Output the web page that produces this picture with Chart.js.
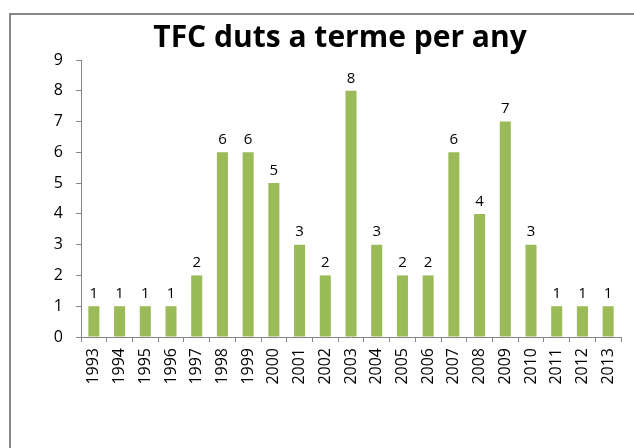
<!DOCTYPE html>
<html lang="ca">
<head>
  <meta charset="UTF-8">
  <title>TFC duts a terme per any</title>
  <script src="https://cdn.jsdelivr.net/npm/chart.js"></script>
  <style>
    html, body { margin: 0; padding: 0; background: #fff; }
    body { width: 634px; height: 448px; position: relative; overflow: hidden; }
    .marc {
      position: absolute; left: 9px; top: 13px;
      width: 660px; height: 480px;
      border: 2px solid #868686;
    }
    canvas { position: absolute; left: 0; top: 0; }
  </style>
</head>
<body>
  <div class="marc"></div>
  <canvas id="grafic" width="634" height="448"></canvas>
  <script>
    // dades
    const anys = ['1993', '1994', '1995', '1996', '1997', '1998', '1999', '2000', '2001', '2002', '2003',
                  '2004', '2005', '2006', '2007', '2008', '2009', '2010', '2011', '2012', '2013'];
    const tfc = [1, 1, 1, 1, 2, 6, 6, 5, 3, 2, 8, 3, 2, 2, 6, 4, 7, 3, 1, 1, 1];
    const titol = 'TFC duts a terme per any';

    const font = '"Open Sans", sans-serif';

    // etiquetes de valor sobre les barres + títol (centrat al marc, no al canvas)
    const etiquetes = {
      id: 'etiquetes',
      afterDatasetsDraw(chart) {
        const ctx = chart.ctx;
        const meta = chart.getDatasetMeta(0);
        ctx.save();
        ctx.font = '15px ' + font;
        ctx.fillStyle = '#000';
        ctx.textAlign = 'center';
        ctx.textBaseline = 'bottom';
        meta.data.forEach(function(bar, i) {
          ctx.fillText(tfc[i], bar.x, bar.y - 5);
        });
        ctx.font = 'bold 30px ' + font;
        ctx.textBaseline = 'middle';
        ctx.fillText(titol, 340, 38);
        ctx.restore();
      }
    };

    new Chart(document.getElementById('grafic').getContext('2d'), {
      type: 'bar',
      data: {
        labels: anys,
        datasets: [{
          data: tfc,
          backgroundColor: '#9BBB59',
          borderWidth: 0,
          barPercentage: 0.43,
          categoryPercentage: 1
        }]
      },
      options: {
        responsive: false,
        animation: false,
        layout: { padding: { left: 36, right: 13, top: 60, bottom: 0 } },
        plugins: {
          legend: { display: false },
          tooltip: { enabled: false },
          title: { display: false }
        },
        scales: {
          x: {
            afterFit(scale) { scale.height = 111; },
            grid: { drawOnChartArea: false, drawTicks: true, tickLength: 5, color: '#868686' },
            border: { display: true, color: '#868686' },
            ticks: {
              color: '#000',
              font: { family: font, size: 16 },
              minRotation: 90, maxRotation: 90,
              autoSkip: false, padding: 6
            }
          },
          y: {
            min: 0, max: 9,
            afterFit(scale) { scale.width = 45; },
            grid: { drawOnChartArea: false, drawTicks: true, tickLength: 5, color: '#868686' },
            border: { display: true, color: '#868686' },
            ticks: {
              stepSize: 1,
              color: '#000',
              font: { family: font, size: 16 },
              padding: 13
            }
          }
        }
      },
      plugins: [etiquetes]
    });
  </script>
</body>
</html>
